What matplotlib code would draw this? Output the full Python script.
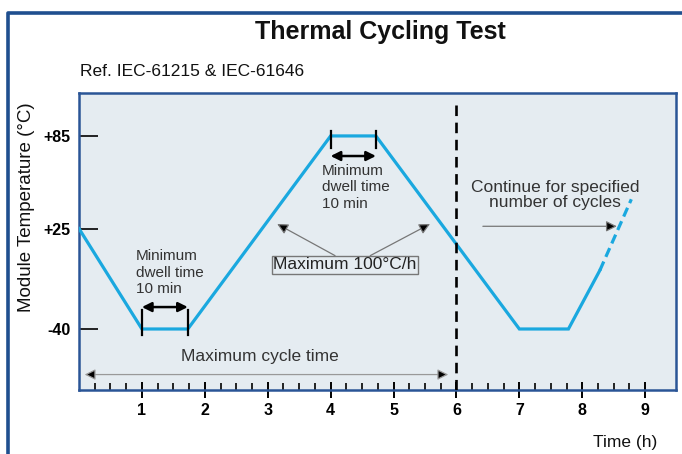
import matplotlib
matplotlib.use('Agg')
import matplotlib.pyplot as plt
from matplotlib.lines import Line2D
import numpy as np

plt.rcParams['font.family'] = ['Liberation Sans', 'DejaVu Sans']

# profile (time in h, temperature in degC)
t_solid = [0.0, 1.0, 1.73, 4.0, 4.72, 7.0, 7.78, 8.28]
T_solid = [25, -40, -40, 85, 85, -40, -40, -2]
t_dash = [8.28, 8.78]
T_dash = [-2, 44]

x_major = [1, 2, 3, 4, 5, 6, 7, 8, 9]
y_ticks = [85, 25, -40]
y_labels = ['+85', '+25', '-40']

line_col = '#1aa8df'
frame_col = '#2a5596'
bg_col = '#e5ecf1'

fig = plt.figure(figsize=(6.82, 4.54), dpi=100)
ax = fig.add_axes([79/682, 1-390/454, (676-79)/682, (390-93)/454])
ax.set_facecolor(bg_col)
ax.set_xlim(0, 9.49)
ax.set_ylim(-79.5, 112.8)
for s in ['top', 'right', 'bottom', 'left']:
    ax.spines[s].set_color(frame_col)
    ax.spines[s].set_linewidth(1.8)

ax.plot(t_solid, T_solid, color=line_col, lw=2.3, solid_joinstyle='miter', zorder=3)
ax.plot(t_dash, T_dash, color=line_col, lw=2.3, ls=(0, (3, 1.6)), zorder=3)

# ticks
ax.set_xticks(x_major)
ax.set_xticklabels([str(v) for v in x_major], fontsize=11.5, fontweight='bold')
ax.set_xticks(np.arange(0.25, 9.0, 0.25), minor=True)
ax.tick_params(axis='x', which='major', direction='inout', length=11, width=1.4, pad=4)
ax.tick_params(axis='x', which='minor', direction='in', length=5, width=1.2)
ax.set_yticks(y_ticks)
ax.set_yticklabels(y_labels, fontsize=11.5, fontweight='bold')
ax.tick_params(axis='y', direction='in', length=14, width=1.2, pad=6)

# dashed cycle boundary
ax.plot([6, 6], [105, -79.5], color='black', lw=1.9, ls=(0, (4, 2.5)), zorder=4)

# dwell markers and arrows
for x0, x1, ylo, yhi, ya in [(1.0, 1.73, -44, -27.5, -25.8), (4.0, 4.72, 77, 88, 72)]:
    ax.plot([x0, x0], [ylo, yhi], color='black', lw=1.6, zorder=4)
    ax.plot([x1, x1], [ylo, yhi], color='black', lw=1.6, zorder=4)
    ax.annotate('', xy=(x1, ya), xytext=(x0, ya),
                arrowprops=dict(arrowstyle='<|-|>', color='black', lw=1.8,
                                shrinkA=0, shrinkB=0, mutation_scale=14))

ax.text(0.9, 11.5, 'Minimum\ndwell time\n10 min', fontsize=11, color='#333333',
        ha='left', va='top', linespacing=1.22)
ax.text(3.86, 67, 'Minimum\ndwell time\n10 min', fontsize=11, color='#333333',
        ha='left', va='top', linespacing=1.22)

# max ramp rate box and arrows
ax.text(4.23, 1.6, 'Maximum 100\u00b0C/h', fontsize=12.5, color='#222222',
        ha='center', va='center',
        bbox=dict(boxstyle='square,pad=0.08', fc=bg_col, ec='#777777', lw=1.0))
grey_arrow = dict(arrowstyle='-|>', fc='black', ec='#777777', lw=0.9,
                  shrinkA=0, shrinkB=0, mutation_scale=16)
ax.annotate('', xy=(3.15, 28), xytext=(4.07, 7.5), arrowprops=grey_arrow)
ax.annotate('', xy=(5.58, 28), xytext=(4.63, 7.5), arrowprops=grey_arrow)

# maximum cycle time
ax.text(2.87, -58, 'Maximum cycle time', fontsize=12.5, color='#333333', ha='center', va='center')
ax.annotate('', xy=(0.09, -69.5), xytext=(5.87, -69.5),
            arrowprops=dict(arrowstyle='<|-|>', fc='black', ec='#999999', lw=0.9,
                            shrinkA=0, shrinkB=0, mutation_scale=16))

# continue
ax.text(7.57, 46.5, 'Continue for specified\nnumber of cycles', fontsize=12.5, color='#333333',
        ha='center', va='center', linespacing=1.0)
ax.annotate('', xy=(8.55, 26.5), xytext=(6.42, 26.5), arrowprops=grey_arrow)

# titles and axis labels
fig.text(380/682, 1-32/454, 'Thermal Cycling Test', fontsize=18, fontweight='bold',
         ha='center', va='center', color='#111111')
fig.text(80/682, 1-72/454, 'Ref. IEC-61215 & IEC-61646', fontsize=12.5, ha='left', va='center',
         color='#111111')
fig.text(27/682, 1-207/454, 'Module Temperature (\u00b0C)', fontsize=13.5, rotation=90,
         ha='center', va='center', color='#111111')
fig.text(625/682, 1-442/454, 'Time (h)', fontsize=12.5, ha='center', va='center', color='#111111')

# outer frame (left and top edges visible)
fig.add_artist(Line2D([8/682, 8/682, 1.0], [0.0, 1-13/454, 1-13/454], transform=fig.transFigure,
                      color='#1f4f8f', lw=2.6))

fig.savefig('out.png', dpi=100)
